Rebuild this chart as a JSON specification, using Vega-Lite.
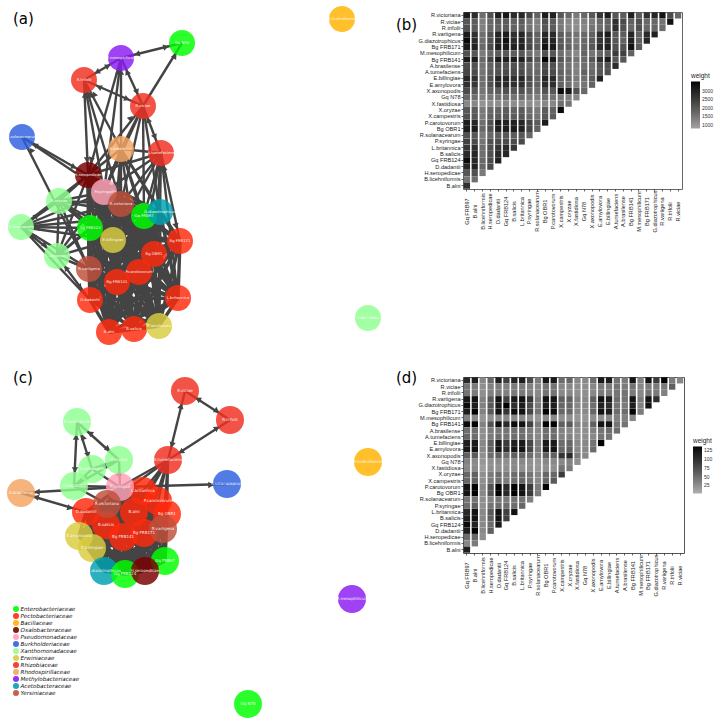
{"$schema":"https://vega.github.io/schema/vega-lite/v6.json","padding":{"left":0,"top":6,"right":0,"bottom":0},"background":"white","concat":[
{"width":400,"height":360,"view":{"stroke":null},"title":{"text":"(a)","anchor":"start","frame":"group","dx":13,"offset":-21,"font":"DejaVu Sans","fontSize":15,"fontWeight":"normal"},
"encoding":{"x":{"field":"x","type":"quantitative","axis":null,"scale":{"domain":[0,400],"nice":false,"zero":false}},"y":{"field":"y","type":"quantitative","axis":null,"scale":{"domain":[12,372],"reverse":true,"nice":false,"zero":false}}},
"layer":[
{"data":{"name":"coreEdges"},"transform":[{"lookup":"s","from":{"data":{"name":"nodesA"},"key":"id","fields":["x","y"]},"as":["x","y"]},{"lookup":"t","from":{"data":{"name":"nodesA"},"key":"id","fields":["x","y"]},"as":["x2","y2"]}],"mark":{"type":"rule","color":"#444444","strokeWidth":3.4},"encoding":{"x2":{"field":"x2"},"y2":{"field":"y2"}}},
{"data":{"name":"edgesA"},"transform":[{"lookup":"s","from":{"data":{"name":"nodesA"},"key":"id","fields":["x","y"]},"as":["x","y"]},{"lookup":"t","from":{"data":{"name":"nodesA"},"key":"id","fields":["x","y"]},"as":["x2","y2"]}],"mark":{"type":"rule","color":"#444444","strokeWidth":2.4},"encoding":{"x2":{"field":"x2"},"y2":{"field":"y2"}}},
{"data":{"name":"arrowsA"},"mark":{"type":"point","shape":"triangle-up","filled":true,"color":"#444444","opacity":1,"size":40},"encoding":{"angle":{"field":"a","type":"quantitative","scale":null}}},
{"data":{"name":"nodesA"},"mark":{"type":"circle","size":676,"opacity":0.83},"encoding":{"color":{"field":"fam","type":"nominal","legend":null,"scale":{"domain":["Enterobacteriaceae","Pectobacteriaceae","Bacillaceae","Oxalobacteraceae","Pseudomonadaceae","Burkholderiaceae","Xanthomonadaceae","Erwiniaceae","Rhizobiaceae","Rhodospirillaceae","Methylobacteriaceae","Acetobacteraceae","Yersiniaceae"],"range":["#00ff00","#ff2a0d","#ffb300","#7b0000","#ffa0b4","#3060e0","#90ff90","#d8cc40","#f03020","#f4a460","#8a1cf0","#00a0b0","#c04f3c"]}}}},
{"data":{"name":"nodesA"},"mark":{"type":"text","color":"white","fontSize":3.8,"font":"DejaVu Sans","opacity":0.9},"encoding":{"text":{"field":"name"}}}
]},
{"width":219,"height":177,"view":{"stroke":"#666666"},"title":{"text":"(b)","anchor":"start","frame":"group","dx":-67,"offset":-21,"font":"DejaVu Sans","fontSize":15,"fontWeight":"normal"},
"data":{"name":"heatB"},"mark":{"type":"rect"},
"encoding":{"x":{"field":"c","type":"ordinal","title":null,"scale":{"paddingInner":0.2,"paddingOuter":0.1},"axis":{"labelAngle":270,"labelAlign":"center","labelBaseline":"middle","labelFont":"Liberation Sans","labelFontSize":5.6,"labelColor":"#222222","tickSize":2,"tickWidth":0.7,"tickColor":"#222222","labelPadding":20,"domain":false,"grid":false,"labelOverlap":false,"labelExpr":"['Gq FRB97','B.alni','B.licehniformis','H.seropedicae','D.dadantii','Gq FRB124','B.salicis','L.britannica','P.syringae','R.solanacearum','Bg OBR1','P.carotovorum','X.campestris','X.oryzae','X.fastidiosa','Gq N78','X.axonopodis','E.amylovora','E.billingiae','A.tumefaciens','A.brasilense','Bg FRB141','M.mesophilicum','Bg FRB171','G.diazotrophicus','R.variigena','R.trifolii','R.viciae'][datum.value]"}},
"y":{"field":"r","type":"ordinal","title":null,"scale":{"paddingInner":0.02,"paddingOuter":0.05},"axis":{"labelFont":"Liberation Sans","labelFontSize":5.6,"labelColor":"#222222","tickSize":2,"tickWidth":0.7,"tickColor":"#222222","labelPadding":1,"domain":false,"grid":false,"labelOverlap":false,"labelExpr":"['R.victoriana','R.viciae','R.trifolii','R.variigena','G.diazotrophicus','Bg FRB171','M.mesophilicum','Bg FRB141','A.brasilense','A.tumefaciens','E.billingiae','E.amylovora','X.axonopodis','Gq N78','X.fastidiosa','X.oryzae','X.campestris','P.carotovorum','Bg OBR1','R.solanacearum','P.syringae','L.britannica','B.salicis','Gq FRB124','D.dadantii','H.seropedicae','B.licehniformis','B.alni'][datum.value]"}},
"color":{"field":"w","type":"quantitative","title":"weight","scale":{"domain":[765,3530],"range":["#a2a2a2","#000000"]},"legend":{"orient":"none","legendX":228,"legendY":61,"gradientLength":47,"gradientThickness":9,"titleFont":"Liberation Sans","titleFontSize":6.5,"titleFontWeight":"normal","titleColor":"#222222","titlePadding":2,"labelFont":"Liberation Sans","labelFontSize":5,"labelColor":"#333333","format":"d","values":[1000,1500,2000,2500,3000],"tickCount":5}}}},
{"width":400,"height":346,"view":{"stroke":null},"title":{"text":"(c)","anchor":"start","frame":"group","dx":13,"offset":-9,"font":"DejaVu Sans","fontSize":15,"fontWeight":"normal"},
"encoding":{"x":{"field":"x","type":"quantitative","axis":null,"scale":{"domain":[0,400],"nice":false,"zero":false}},"y":{"field":"y","type":"quantitative","axis":null,"scale":{"domain":[377,723],"reverse":true,"nice":false,"zero":false}}},
"layer":[
{"data":{"name":"coreEdges"},"transform":[{"lookup":"s","from":{"data":{"name":"nodesC"},"key":"id","fields":["x","y"]},"as":["x","y"]},{"lookup":"t","from":{"data":{"name":"nodesC"},"key":"id","fields":["x","y"]},"as":["x2","y2"]}],"mark":{"type":"rule","color":"#444444","strokeWidth":3.4},"encoding":{"x2":{"field":"x2"},"y2":{"field":"y2"}}},
{"data":{"name":"edgesC"},"transform":[{"lookup":"s","from":{"data":{"name":"nodesC"},"key":"id","fields":["x","y"]},"as":["x","y"]},{"lookup":"t","from":{"data":{"name":"nodesC"},"key":"id","fields":["x","y"]},"as":["x2","y2"]}],"mark":{"type":"rule","color":"#444444","strokeWidth":2.4},"encoding":{"x2":{"field":"x2"},"y2":{"field":"y2"}}},
{"data":{"name":"arrowsC"},"mark":{"type":"point","shape":"triangle-up","filled":true,"color":"#444444","opacity":1,"size":40},"encoding":{"angle":{"field":"a","type":"quantitative","scale":null}}},
{"data":{"name":"nodesC"},"mark":{"type":"circle","size":784,"opacity":0.83},"encoding":{"color":{"field":"fam","type":"nominal","scale":{"domain":["Enterobacteriaceae","Pectobacteriaceae","Bacillaceae","Oxalobacteraceae","Pseudomonadaceae","Burkholderiaceae","Xanthomonadaceae","Erwiniaceae","Rhizobiaceae","Rhodospirillaceae","Methylobacteriaceae","Acetobacteraceae","Yersiniaceae"],"range":["#00ff00","#ff2a0d","#ffb300","#7b0000","#ffa0b4","#3060e0","#90ff90","#d8cc40","#f03020","#f4a460","#8a1cf0","#00a0b0","#c04f3c"]},"legend":{"orient":"none","legendX":13,"legendY":229,"title":null,"symbolType":"circle","symbolSize":36,"symbolOpacity":0.9,"symbolStrokeWidth":0,"labelFont":"DejaVu Sans","labelFontStyle":"italic","labelFontSize":5.6,"labelColor":"#111111","labelOffset":1.5,"rowPadding":-0.35}}}},
{"data":{"name":"nodesC"},"mark":{"type":"text","color":"white","fontSize":4,"font":"DejaVu Sans","opacity":0.9},"encoding":{"text":{"field":"name"}}}
]},
{"width":221,"height":176,"view":{"stroke":"#555555"},"title":{"text":"(d)","anchor":"start","frame":"group","dx":-67,"offset":-9,"font":"DejaVu Sans","fontSize":15,"fontWeight":"normal"},
"data":{"name":"heatD"},"mark":{"type":"rect"},
"encoding":{"x":{"field":"c","type":"ordinal","title":null,"scale":{"paddingInner":0.2,"paddingOuter":0.1},"axis":{"labelAngle":270,"labelAlign":"center","labelBaseline":"middle","labelFont":"Liberation Sans","labelFontSize":5.6,"labelColor":"#222222","tickSize":2,"tickWidth":0.7,"tickColor":"#222222","labelPadding":20,"domain":false,"grid":false,"labelOverlap":false,"labelExpr":"['Gq FRB97','B.alni','B.licehniformis','H.seropedicae','D.dadantii','Gq FRB124','B.salicis','L.britannica','P.syringae','R.solanacearum','Bg OBR1','P.carotovorum','X.campestris','X.oryzae','X.fastidiosa','Gq N78','X.axonopodis','E.amylovora','E.billingiae','A.tumefaciens','A.brasilense','Bg FRB141','M.mesophilicum','Bg FRB171','G.diazotrophicus','R.variigena','R.trifolii','R.viciae'][datum.value]"}},
"y":{"field":"r","type":"ordinal","title":null,"scale":{"paddingInner":0.02,"paddingOuter":0.05},"axis":{"labelFont":"Liberation Sans","labelFontSize":5.6,"labelColor":"#222222","tickSize":2,"tickWidth":0.7,"tickColor":"#222222","labelPadding":1,"domain":false,"grid":false,"labelOverlap":false,"labelExpr":"['R.victoriana','R.viciae','R.trifolii','R.variigena','G.diazotrophicus','Bg FRB171','M.mesophilicum','Bg FRB141','A.brasilense','A.tumefaciens','E.billingiae','E.amylovora','X.axonopodis','Gq N78','X.fastidiosa','X.oryzae','X.campestris','P.carotovorum','Bg OBR1','R.solanacearum','P.syringae','L.britannica','B.salicis','Gq FRB124','D.dadantii','H.seropedicae','B.licehniformis','B.alni'][datum.value]"}},
"color":{"field":"w","type":"quantitative","title":"weight","scale":{"domain":[2,136],"range":["#b0b0b0","#000000"]},"legend":{"orient":"none","legendX":230,"legendY":61,"gradientLength":47,"gradientThickness":9,"titleFont":"Liberation Sans","titleFontSize":6.5,"titleFontWeight":"normal","titleColor":"#222222","titlePadding":2,"labelFont":"Liberation Sans","labelFontSize":5,"labelColor":"#333333","values":[25,50,75,100,125],"tickCount":5}}}}
],"columns":2,"bounds":"flush","spacing":{"column":63,"row":5},
"resolve":{"scale":{"color":"independent"}},
"datasets":{
"nodesA":[
{"id":2,"name":"B.licehniformis","fam":"Bacillaceae","x":342,"y":19},{"id":14,"name":"X.fastidiosa","fam":"Xanthomonadaceae","x":368,"y":318},{"id":15,"name":"Gq N78","fam":"Enterobacteriaceae","x":182,"y":43},{"id":22,"name":"M.mesophilicum","fam":"Methylobacteriaceae","x":121,"y":58},{"id":26,"name":"R.trifolii","fam":"Rhizobiaceae","x":84,"y":80},{"id":27,"name":"R.viciae","fam":"Rhizobiaceae","x":143,"y":106},{"id":9,"name":"R.solanacearum","fam":"Burkholderiaceae","x":22,"y":137},{"id":20,"name":"A.brasilense","fam":"Rhodospirillaceae","x":121,"y":149},{"id":19,"name":"A.tumefaciens","fam":"Rhizobiaceae","x":161,"y":153},{"id":3,"name":"H.seropedicae","fam":"Oxalobacteraceae","x":88,"y":175},{"id":13,"name":"X.oryzae","fam":"Xanthomonadaceae","x":59,"y":201},{"id":16,"name":"X.axonopodis","fam":"Xanthomonadaceae","x":21,"y":227},{"id":12,"name":"X.campestris","fam":"Xanthomonadaceae","x":57,"y":256},{"id":8,"name":"P.syringae","fam":"Pseudomonadaceae","x":104,"y":192},{"id":28,"name":"R.victoriana","fam":"Yersiniaceae","x":121,"y":204},{"id":0,"name":"Gq FRB97","fam":"Enterobacteriaceae","x":144,"y":216},{"id":24,"name":"G.diazotrophicus","fam":"Acetobacteraceae","x":160,"y":212},{"id":5,"name":"Gq FRB124","fam":"Enterobacteriaceae","x":90,"y":228},{"id":18,"name":"E.billingiae","fam":"Erwiniaceae","x":113,"y":240},{"id":23,"name":"Bg FRB171","fam":"Pectobacteriaceae","x":180,"y":241},{"id":10,"name":"Bg OBR1","fam":"Pectobacteriaceae","x":154,"y":254},{"id":25,"name":"R.variigena","fam":"Yersiniaceae","x":89,"y":269},{"id":11,"name":"P.carotovorum","fam":"Pectobacteriaceae","x":139,"y":272},{"id":21,"name":"Bg FRB141","fam":"Pectobacteriaceae","x":117,"y":282},{"id":7,"name":"L.britannica","fam":"Pectobacteriaceae","x":178,"y":298},{"id":4,"name":"D.dadantii","fam":"Pectobacteriaceae","x":90,"y":300},{"id":1,"name":"B.alni","fam":"Pectobacteriaceae","x":109,"y":332},{"id":6,"name":"B.salicis","fam":"Pectobacteriaceae","x":134,"y":329},{"id":17,"name":"E.amylovora","fam":"Erwiniaceae","x":159,"y":326}],
"nodesC":[
{"id":27,"name":"R.viciae","fam":"Rhizobiaceae","x":185,"y":391},{"id":26,"name":"R.trifolii","fam":"Rhizobiaceae","x":230,"y":420},{"id":19,"name":"A.tumefaciens","fam":"Rhizobiaceae","x":168,"y":460},{"id":9,"name":"R.solanacearum","fam":"Burkholderiaceae","x":227,"y":484},{"id":2,"name":"B.licehniformis","fam":"Bacillaceae","x":368,"y":462},{"id":22,"name":"M.mesophilicum","fam":"Methylobacteriaceae","x":352,"y":599},{"id":15,"name":"Gq N78","fam":"Enterobacteriaceae","x":248,"y":704},{"id":16,"name":"X.axonopodis","fam":"Xanthomonadaceae","x":77,"y":422},{"id":13,"name":"X.campestris","fam":"Xanthomonadaceae","x":92,"y":469},{"id":12,"name":"X.oryzae","fam":"Xanthomonadaceae","x":119,"y":460},{"id":14,"name":"X.fastidiosa","fam":"Xanthomonadaceae","x":74,"y":486},{"id":20,"name":"A.brasilense","fam":"Rhodospirillaceae","x":21,"y":493},{"id":7,"name":"L.britannica","fam":"Pectobacteriaceae","x":143,"y":491},{"id":11,"name":"P.carotovorum","fam":"Pectobacteriaceae","x":158,"y":501},{"id":10,"name":"Bg OBR1","fam":"Pectobacteriaceae","x":167,"y":514},{"id":1,"name":"B.alni","fam":"Pectobacteriaceae","x":134,"y":512},{"id":4,"name":"D.dadantii","fam":"Pectobacteriaceae","x":86,"y":512},{"id":6,"name":"B.salicis","fam":"Pectobacteriaceae","x":106,"y":525},{"id":21,"name":"Bg FRB141","fam":"Pectobacteriaceae","x":123,"y":537},{"id":23,"name":"Bg FRB171","fam":"Pectobacteriaceae","x":144,"y":533},{"id":8,"name":"P.syringae","fam":"Pseudomonadaceae","x":120,"y":487},{"id":28,"name":"R.victoriana","fam":"Yersiniaceae","x":107,"y":504},{"id":25,"name":"R.variigena","fam":"Yersiniaceae","x":163,"y":529},{"id":17,"name":"E.amylovora","fam":"Erwiniaceae","x":79,"y":536},{"id":18,"name":"E.billingiae","fam":"Erwiniaceae","x":92,"y":548},{"id":0,"name":"Gq FRB97","fam":"Enterobacteriaceae","x":165,"y":561},{"id":24,"name":"G.diazotrophicus","fam":"Acetobacteraceae","x":104,"y":571},{"id":5,"name":"Gq FRB124","fam":"Enterobacteriaceae","x":125,"y":574},{"id":3,"name":"H.seropedicae","fam":"Oxalobacteraceae","x":145,"y":571}],
"coreEdges":[{"s":0,"t":1},{"s":0,"t":3},{"s":0,"t":4},{"s":0,"t":5},{"s":0,"t":6},{"s":0,"t":7},{"s":0,"t":8},{"s":0,"t":10},{"s":0,"t":11},{"s":0,"t":17},{"s":0,"t":18},{"s":0,"t":21},{"s":0,"t":23},{"s":0,"t":24},{"s":0,"t":25},{"s":0,"t":28},{"s":1,"t":3},{"s":1,"t":4},{"s":1,"t":5},{"s":1,"t":6},{"s":1,"t":7},{"s":1,"t":8},{"s":1,"t":10},{"s":1,"t":11},{"s":1,"t":17},{"s":1,"t":18},{"s":1,"t":21},{"s":1,"t":23},{"s":1,"t":24},{"s":1,"t":25},{"s":1,"t":28},{"s":3,"t":4},{"s":3,"t":5},{"s":3,"t":6},{"s":3,"t":7},{"s":3,"t":8},{"s":3,"t":10},{"s":3,"t":11},{"s":3,"t":17},{"s":3,"t":18},{"s":3,"t":21},{"s":3,"t":23},{"s":3,"t":24},{"s":3,"t":25},{"s":3,"t":28},{"s":4,"t":5},{"s":4,"t":6},{"s":4,"t":7},{"s":4,"t":8},{"s":4,"t":10},{"s":4,"t":11},{"s":4,"t":17},{"s":4,"t":18},{"s":4,"t":21},{"s":4,"t":23},{"s":4,"t":24},{"s":4,"t":25},{"s":4,"t":28},{"s":5,"t":6},{"s":5,"t":7},{"s":5,"t":8},{"s":5,"t":10},{"s":5,"t":11},{"s":5,"t":17},{"s":5,"t":18},{"s":5,"t":21},{"s":5,"t":23},{"s":5,"t":24},{"s":5,"t":25},{"s":5,"t":28},{"s":6,"t":7},{"s":6,"t":8},{"s":6,"t":10},{"s":6,"t":11},{"s":6,"t":17},{"s":6,"t":18},{"s":6,"t":21},{"s":6,"t":23},{"s":6,"t":24},{"s":6,"t":25},{"s":6,"t":28},{"s":7,"t":8},{"s":7,"t":10},{"s":7,"t":11},{"s":7,"t":17},{"s":7,"t":18},{"s":7,"t":21},{"s":7,"t":23},{"s":7,"t":24},{"s":7,"t":25},{"s":7,"t":28},{"s":8,"t":10},{"s":8,"t":11},{"s":8,"t":17},{"s":8,"t":18},{"s":8,"t":21},{"s":8,"t":23},{"s":8,"t":24},{"s":8,"t":25},{"s":8,"t":28},{"s":10,"t":11},{"s":10,"t":17},{"s":10,"t":18},{"s":10,"t":21},{"s":10,"t":23},{"s":10,"t":24},{"s":10,"t":25},{"s":10,"t":28},{"s":11,"t":17},{"s":11,"t":18},{"s":11,"t":21},{"s":11,"t":23},{"s":11,"t":24},{"s":11,"t":25},{"s":11,"t":28},{"s":17,"t":18},{"s":17,"t":21},{"s":17,"t":23},{"s":17,"t":24},{"s":17,"t":25},{"s":17,"t":28},{"s":18,"t":21},{"s":18,"t":23},{"s":18,"t":24},{"s":18,"t":25},{"s":18,"t":28},{"s":21,"t":23},{"s":21,"t":24},{"s":21,"t":25},{"s":21,"t":28},{"s":23,"t":24},{"s":23,"t":25},{"s":23,"t":28},{"s":24,"t":25},{"s":24,"t":28},{"s":25,"t":28}],
"edgesA":[{"s":16,"t":3},{"s":16,"t":8},{"s":16,"t":5},{"s":16,"t":18},{"s":16,"t":25},{"s":16,"t":28},{"s":16,"t":4},{"s":16,"t":0},{"s":12,"t":3},{"s":12,"t":8},{"s":12,"t":5},{"s":12,"t":18},{"s":12,"t":25},{"s":12,"t":4},{"s":12,"t":21},{"s":12,"t":28},{"s":13,"t":3},{"s":13,"t":8},{"s":13,"t":5},{"s":13,"t":18},{"s":13,"t":25},{"s":13,"t":28},{"s":13,"t":0},{"s":13,"t":10},{"s":16,"t":12},{"s":16,"t":13},{"s":12,"t":13},{"s":20,"t":3},{"s":20,"t":8},{"s":20,"t":28},{"s":20,"t":5},{"s":20,"t":0},{"s":20,"t":24},{"s":20,"t":18},{"s":20,"t":10},{"s":20,"t":11},{"s":20,"t":21},{"s":20,"t":23},{"s":19,"t":3},{"s":19,"t":8},{"s":19,"t":28},{"s":19,"t":0},{"s":19,"t":24},{"s":19,"t":18},{"s":19,"t":10},{"s":19,"t":23},{"s":19,"t":11},{"s":19,"t":7},{"s":19,"t":20},{"s":9,"t":3},{"s":9,"t":8},{"s":9,"t":25},{"s":22,"t":15},{"s":22,"t":26},{"s":22,"t":27},{"s":15,"t":27},{"s":26,"t":27},{"s":26,"t":3},{"s":26,"t":20},{"s":26,"t":8},{"s":26,"t":28},{"s":22,"t":3},{"s":22,"t":8},{"s":22,"t":20},{"s":27,"t":3},{"s":27,"t":20},{"s":27,"t":19},{"s":27,"t":8},{"s":27,"t":24},{"s":27,"t":0},{"s":27,"t":28}],
"edgesC":[{"s":19,"t":7},{"s":19,"t":11},{"s":19,"t":1},{"s":19,"t":10},{"s":19,"t":23},{"s":19,"t":21},{"s":19,"t":25},{"s":19,"t":8},{"s":19,"t":28},{"s":20,"t":8},{"s":20,"t":4},{"s":9,"t":8},{"s":16,"t":14},{"s":16,"t":13},{"s":16,"t":12},{"s":13,"t":12},{"s":12,"t":8},{"s":14,"t":8},{"s":14,"t":28},{"s":13,"t":8},{"s":14,"t":13},{"s":12,"t":14},{"s":26,"t":27},{"s":26,"t":19},{"s":27,"t":19}],
"arrowsA":[{"x":166,"y":47,"a":76},{"x":137,"y":54,"a":256},{"x":97,"y":72,"a":241},{"x":108,"y":66,"a":61},{"x":175,"y":56,"a":33},{"x":127,"y":72,"a":335},{"x":137,"y":92,"a":155},{"x":99,"y":87,"a":293},{"x":127,"y":99,"a":113},{"x":85,"y":95,"a":0},{"x":87,"y":160,"a":180},{"x":90,"y":95,"a":350},{"x":94,"y":94,"a":335},{"x":119,"y":72,"a":20},{"x":91,"y":160,"a":200},{"x":121,"y":72,"a":0},{"x":155,"y":137,"a":155},{"x":148,"y":120,"a":335},{"x":131,"y":118,"a":45},{"x":35,"y":145,"a":300},{"x":74,"y":167,"a":115},{"x":31,"y":150,"a":325},{"x":35,"y":216,"a":285},{"x":37,"y":228,"a":270},{"x":33,"y":236,"a":305},{"x":45,"y":245,"a":125},{"x":66,"y":268,"a":324},{"x":80,"y":287,"a":144},{"x":164,"y":168,"a":348},{"x":176,"y":226,"a":168}],
"arrowsC":[{"x":181,"y":406,"a":13},{"x":172,"y":445,"a":193},{"x":217,"y":411,"a":122},{"x":198,"y":399,"a":302},{"x":217,"y":428,"a":56},{"x":181,"y":452,"a":236},{"x":37,"y":492,"a":268},{"x":36,"y":497,"a":287},{"x":70,"y":508,"a":107},{"x":211,"y":485,"a":90},{"x":75,"y":470,"a":180},{"x":76,"y":437,"a":0},{"x":88,"y":455,"a":163},{"x":83,"y":437,"a":343},{"x":108,"y":449,"a":125},{"x":90,"y":433,"a":305},{"x":119,"y":473,"a":0},{"x":105,"y":465,"a":60},{"x":85,"y":478,"a":240}],
"heatB":[{"r":0,"c":0,"w":3100},{"r":0,"c":1,"w":2800},{"r":0,"c":2,"w":1600},{"r":0,"c":3,"w":2100},{"r":0,"c":4,"w":3000},{"r":0,"c":5,"w":3200},{"r":0,"c":6,"w":2800},{"r":0,"c":7,"w":2900},{"r":0,"c":8,"w":2300},{"r":0,"c":9,"w":1800},{"r":0,"c":10,"w":3100},{"r":0,"c":11,"w":3000},{"r":0,"c":12,"w":2000},{"r":0,"c":13,"w":1700},{"r":0,"c":14,"w":1400},{"r":0,"c":15,"w":1700},{"r":0,"c":16,"w":2000},{"r":0,"c":17,"w":2600},{"r":0,"c":18,"w":3100},{"r":0,"c":19,"w":2000},{"r":0,"c":20,"w":1900},{"r":0,"c":21,"w":3000},{"r":0,"c":22,"w":1900},{"r":0,"c":23,"w":2700},{"r":0,"c":24,"w":2900},{"r":0,"c":25,"w":3300},{"r":0,"c":26,"w":2200},{"r":0,"c":27,"w":1700},
{"r":1,"c":0,"w":2000},{"r":1,"c":1,"w":1900},{"r":1,"c":2,"w":1300},{"r":1,"c":3,"w":1700},{"r":1,"c":4,"w":1900},{"r":1,"c":5,"w":1900},{"r":1,"c":6,"w":1800},{"r":1,"c":7,"w":1900},{"r":1,"c":8,"w":1500},{"r":1,"c":9,"w":1300},{"r":1,"c":10,"w":2100},{"r":1,"c":11,"w":1900},{"r":1,"c":12,"w":1400},{"r":1,"c":13,"w":1200},{"r":1,"c":14,"w":1100},{"r":1,"c":15,"w":1300},{"r":1,"c":16,"w":1400},{"r":1,"c":17,"w":1700},{"r":1,"c":18,"w":1800},{"r":1,"c":19,"w":2700},{"r":1,"c":20,"w":2200},{"r":1,"c":21,"w":1800},{"r":1,"c":22,"w":2100},{"r":1,"c":23,"w":1700},{"r":1,"c":24,"w":1700},{"r":1,"c":25,"w":1500},{"r":1,"c":26,"w":3300},
{"r":2,"c":0,"w":2100},{"r":2,"c":1,"w":1900},{"r":2,"c":2,"w":1300},{"r":2,"c":3,"w":1700},{"r":2,"c":4,"w":1800},{"r":2,"c":5,"w":1900},{"r":2,"c":6,"w":1800},{"r":2,"c":7,"w":1800},{"r":2,"c":8,"w":1500},{"r":2,"c":9,"w":1300},{"r":2,"c":10,"w":2000},{"r":2,"c":11,"w":1900},{"r":2,"c":12,"w":1400},{"r":2,"c":13,"w":1200},{"r":2,"c":14,"w":1100},{"r":2,"c":15,"w":1200},{"r":2,"c":16,"w":1500},{"r":2,"c":17,"w":1600},{"r":2,"c":18,"w":1800},{"r":2,"c":19,"w":2700},{"r":2,"c":20,"w":2100},{"r":2,"c":21,"w":1700},{"r":2,"c":22,"w":2100},{"r":2,"c":23,"w":1700},{"r":2,"c":24,"w":1700},{"r":2,"c":25,"w":1600},
{"r":3,"c":0,"w":3100},{"r":3,"c":1,"w":2700},{"r":3,"c":2,"w":1600},{"r":3,"c":3,"w":2100},{"r":3,"c":4,"w":2900},{"r":3,"c":5,"w":3100},{"r":3,"c":6,"w":2700},{"r":3,"c":7,"w":2900},{"r":3,"c":8,"w":2200},{"r":3,"c":9,"w":1800},{"r":3,"c":10,"w":2900},{"r":3,"c":11,"w":2800},{"r":3,"c":12,"w":1900},{"r":3,"c":13,"w":1700},{"r":3,"c":14,"w":1500},{"r":3,"c":15,"w":1700},{"r":3,"c":16,"w":1800},{"r":3,"c":17,"w":2700},{"r":3,"c":18,"w":3100},{"r":3,"c":19,"w":2000},{"r":3,"c":20,"w":1900},{"r":3,"c":21,"w":2900},{"r":3,"c":22,"w":1800},{"r":3,"c":23,"w":2800},{"r":3,"c":24,"w":3000},
{"r":4,"c":0,"w":3400},{"r":4,"c":1,"w":2800},{"r":4,"c":2,"w":1600},{"r":4,"c":3,"w":2100},{"r":4,"c":4,"w":2900},{"r":4,"c":5,"w":3300},{"r":4,"c":6,"w":2800},{"r":4,"c":7,"w":2900},{"r":4,"c":8,"w":2200},{"r":4,"c":9,"w":1800},{"r":4,"c":10,"w":3000},{"r":4,"c":11,"w":2900},{"r":4,"c":12,"w":1900},{"r":4,"c":13,"w":1700},{"r":4,"c":14,"w":1400},{"r":4,"c":15,"w":1700},{"r":4,"c":16,"w":1900},{"r":4,"c":17,"w":2600},{"r":4,"c":18,"w":2800},{"r":4,"c":19,"w":2000},{"r":4,"c":20,"w":1800},{"r":4,"c":21,"w":3000},{"r":4,"c":22,"w":1800},{"r":4,"c":23,"w":2900},
{"r":5,"c":0,"w":3100},{"r":5,"c":1,"w":3000},{"r":5,"c":2,"w":1700},{"r":5,"c":3,"w":2200},{"r":5,"c":4,"w":3000},{"r":5,"c":5,"w":3100},{"r":5,"c":6,"w":3000},{"r":5,"c":7,"w":3000},{"r":5,"c":8,"w":2300},{"r":5,"c":9,"w":1900},{"r":5,"c":10,"w":3300},{"r":5,"c":11,"w":3100},{"r":5,"c":12,"w":2000},{"r":5,"c":13,"w":1800},{"r":5,"c":14,"w":1500},{"r":5,"c":15,"w":1700},{"r":5,"c":16,"w":2000},{"r":5,"c":17,"w":2800},{"r":5,"c":18,"w":3000},{"r":5,"c":19,"w":2100},{"r":5,"c":20,"w":2100},{"r":5,"c":21,"w":3300},{"r":5,"c":22,"w":1900},
{"r":6,"c":0,"w":2100},{"r":6,"c":1,"w":2000},{"r":6,"c":2,"w":1400},{"r":6,"c":3,"w":1700},{"r":6,"c":4,"w":1900},{"r":6,"c":5,"w":2000},{"r":6,"c":6,"w":1900},{"r":6,"c":7,"w":2000},{"r":6,"c":8,"w":1600},{"r":6,"c":9,"w":1400},{"r":6,"c":10,"w":2100},{"r":6,"c":11,"w":2000},{"r":6,"c":12,"w":1600},{"r":6,"c":13,"w":1400},{"r":6,"c":14,"w":1200},{"r":6,"c":15,"w":1800},{"r":6,"c":16,"w":1500},{"r":6,"c":17,"w":1700},{"r":6,"c":18,"w":1900},{"r":6,"c":19,"w":2500},{"r":6,"c":20,"w":2400},{"r":6,"c":21,"w":1800},
{"r":7,"c":0,"w":3100},{"r":7,"c":1,"w":3100},{"r":7,"c":2,"w":1700},{"r":7,"c":3,"w":2300},{"r":7,"c":4,"w":3100},{"r":7,"c":5,"w":3000},{"r":7,"c":6,"w":3100},{"r":7,"c":7,"w":3000},{"r":7,"c":8,"w":2400},{"r":7,"c":9,"w":1900},{"r":7,"c":10,"w":3500},{"r":7,"c":11,"w":3100},{"r":7,"c":12,"w":2000},{"r":7,"c":13,"w":1700},{"r":7,"c":14,"w":1500},{"r":7,"c":15,"w":1700},{"r":7,"c":16,"w":2000},{"r":7,"c":17,"w":2700},{"r":7,"c":18,"w":3100},{"r":7,"c":19,"w":2000},{"r":7,"c":20,"w":2000},
{"r":8,"c":0,"w":2200},{"r":8,"c":1,"w":2100},{"r":8,"c":2,"w":1500},{"r":8,"c":3,"w":1800},{"r":8,"c":4,"w":2100},{"r":8,"c":5,"w":2100},{"r":8,"c":6,"w":2100},{"r":8,"c":7,"w":2100},{"r":8,"c":8,"w":1700},{"r":8,"c":9,"w":1600},{"r":8,"c":10,"w":2200},{"r":8,"c":11,"w":2100},{"r":8,"c":12,"w":1700},{"r":8,"c":13,"w":1500},{"r":8,"c":14,"w":1300},{"r":8,"c":15,"w":1600},{"r":8,"c":16,"w":1600},{"r":8,"c":17,"w":2000},{"r":8,"c":18,"w":2100},{"r":8,"c":19,"w":2800},
{"r":9,"c":0,"w":2300},{"r":9,"c":1,"w":2200},{"r":9,"c":2,"w":1500},{"r":9,"c":3,"w":1900},{"r":9,"c":4,"w":2100},{"r":9,"c":5,"w":2200},{"r":9,"c":6,"w":2200},{"r":9,"c":7,"w":2200},{"r":9,"c":8,"w":1800},{"r":9,"c":9,"w":1700},{"r":9,"c":10,"w":2300},{"r":9,"c":11,"w":2200},{"r":9,"c":12,"w":1800},{"r":9,"c":13,"w":1600},{"r":9,"c":14,"w":1300},{"r":9,"c":15,"w":1800},{"r":9,"c":16,"w":1700},{"r":9,"c":17,"w":2000},{"r":9,"c":18,"w":2100},
{"r":10,"c":0,"w":2900},{"r":10,"c":1,"w":2700},{"r":10,"c":2,"w":1600},{"r":10,"c":3,"w":2100},{"r":10,"c":4,"w":2900},{"r":10,"c":5,"w":2900},{"r":10,"c":6,"w":2700},{"r":10,"c":7,"w":2900},{"r":10,"c":8,"w":2200},{"r":10,"c":9,"w":1800},{"r":10,"c":10,"w":2900},{"r":10,"c":11,"w":2800},{"r":10,"c":12,"w":1800},{"r":10,"c":13,"w":1700},{"r":10,"c":14,"w":1400},{"r":10,"c":15,"w":1600},{"r":10,"c":16,"w":1900},{"r":10,"c":17,"w":3000},
{"r":11,"c":0,"w":2700},{"r":11,"c":1,"w":2600},{"r":11,"c":2,"w":1600},{"r":11,"c":3,"w":2100},{"r":11,"c":4,"w":2700},{"r":11,"c":5,"w":2800},{"r":11,"c":6,"w":2700},{"r":11,"c":7,"w":2700},{"r":11,"c":8,"w":2100},{"r":11,"c":9,"w":1800},{"r":11,"c":10,"w":2800},{"r":11,"c":11,"w":2700},{"r":11,"c":12,"w":1800},{"r":11,"c":13,"w":1600},{"r":11,"c":14,"w":1300},{"r":11,"c":15,"w":1500},{"r":11,"c":16,"w":1800},
{"r":12,"c":0,"w":2200},{"r":12,"c":1,"w":2000},{"r":12,"c":2,"w":1500},{"r":12,"c":3,"w":1800},{"r":12,"c":4,"w":1900},{"r":12,"c":5,"w":2100},{"r":12,"c":6,"w":2000},{"r":12,"c":7,"w":2100},{"r":12,"c":8,"w":1800},{"r":12,"c":9,"w":1600},{"r":12,"c":10,"w":2100},{"r":12,"c":11,"w":2000},{"r":12,"c":12,"w":3400},{"r":12,"c":13,"w":3200},{"r":12,"c":14,"w":2100},{"r":12,"c":15,"w":1700},
{"r":13,"c":0,"w":1700},{"r":13,"c":1,"w":1600},{"r":13,"c":2,"w":1300},{"r":13,"c":3,"w":1400},{"r":13,"c":4,"w":1500},{"r":13,"c":5,"w":1600},{"r":13,"c":6,"w":1500},{"r":13,"c":7,"w":1600},{"r":13,"c":8,"w":1400},{"r":13,"c":9,"w":1300},{"r":13,"c":10,"w":1600},{"r":13,"c":11,"w":1500},{"r":13,"c":12,"w":1400},{"r":13,"c":13,"w":1300},{"r":13,"c":14,"w":1200},
{"r":14,"c":0,"w":1200},{"r":14,"c":1,"w":1200},{"r":14,"c":2,"w":1000},{"r":14,"c":3,"w":1100},{"r":14,"c":4,"w":1100},{"r":14,"c":5,"w":1200},{"r":14,"c":6,"w":1100},{"r":14,"c":7,"w":1100},{"r":14,"c":8,"w":1100},{"r":14,"c":9,"w":1000},{"r":14,"c":10,"w":1200},{"r":14,"c":11,"w":1200},{"r":14,"c":12,"w":1600},{"r":14,"c":13,"w":1500},
{"r":15,"c":0,"w":2000},{"r":15,"c":1,"w":1900},{"r":15,"c":2,"w":1400},{"r":15,"c":3,"w":1700},{"r":15,"c":4,"w":1800},{"r":15,"c":5,"w":1900},{"r":15,"c":6,"w":1800},{"r":15,"c":7,"w":1900},{"r":15,"c":8,"w":1600},{"r":15,"c":9,"w":1400},{"r":15,"c":10,"w":1900},{"r":15,"c":11,"w":1800},{"r":15,"c":12,"w":3400},
{"r":16,"c":0,"w":2100},{"r":16,"c":1,"w":2000},{"r":16,"c":2,"w":1400},{"r":16,"c":3,"w":1800},{"r":16,"c":4,"w":1900},{"r":16,"c":5,"w":2000},{"r":16,"c":6,"w":1900},{"r":16,"c":7,"w":2000},{"r":16,"c":8,"w":1700},{"r":16,"c":9,"w":1500},{"r":16,"c":10,"w":2000},{"r":16,"c":11,"w":1900},
{"r":17,"c":0,"w":3100},{"r":17,"c":1,"w":2900},{"r":17,"c":2,"w":1600},{"r":17,"c":3,"w":2100},{"r":17,"c":4,"w":3100},{"r":17,"c":5,"w":3000},{"r":17,"c":6,"w":3000},{"r":17,"c":7,"w":2900},{"r":17,"c":8,"w":2300},{"r":17,"c":9,"w":1900},{"r":17,"c":10,"w":3100},
{"r":18,"c":0,"w":3100},{"r":18,"c":1,"w":3100},{"r":18,"c":2,"w":1700},{"r":18,"c":3,"w":2100},{"r":18,"c":4,"w":3000},{"r":18,"c":5,"w":3100},{"r":18,"c":6,"w":3100},{"r":18,"c":7,"w":3000},{"r":18,"c":8,"w":2300},{"r":18,"c":9,"w":1800},
{"r":19,"c":0,"w":2100},{"r":19,"c":1,"w":2000},{"r":19,"c":2,"w":1400},{"r":19,"c":3,"w":1700},{"r":19,"c":4,"w":1900},{"r":19,"c":5,"w":2000},{"r":19,"c":6,"w":1900},{"r":19,"c":7,"w":2000},{"r":19,"c":8,"w":1700},
{"r":20,"c":0,"w":2400},{"r":20,"c":1,"w":2200},{"r":20,"c":2,"w":1500},{"r":20,"c":3,"w":2100},{"r":20,"c":4,"w":2200},{"r":20,"c":5,"w":2200},{"r":20,"c":6,"w":2200},{"r":20,"c":7,"w":2200},
{"r":21,"c":0,"w":2600},{"r":21,"c":1,"w":2700},{"r":21,"c":2,"w":1600},{"r":21,"c":3,"w":2100},{"r":21,"c":4,"w":2600},{"r":21,"c":5,"w":2800},{"r":21,"c":6,"w":2600},
{"r":22,"c":0,"w":2800},{"r":22,"c":1,"w":2900},{"r":22,"c":2,"w":1600},{"r":22,"c":3,"w":2100},{"r":22,"c":4,"w":2800},{"r":22,"c":5,"w":2900},
{"r":23,"c":0,"w":3400},{"r":23,"c":1,"w":2900},{"r":23,"c":2,"w":1700},{"r":23,"c":3,"w":2200},{"r":23,"c":4,"w":3000},
{"r":24,"c":0,"w":2900},{"r":24,"c":1,"w":3000},{"r":24,"c":2,"w":1700},{"r":24,"c":3,"w":2200},
{"r":25,"c":0,"w":2000},{"r":25,"c":1,"w":2100},{"r":25,"c":2,"w":1400},
{"r":26,"c":0,"w":1500},{"r":26,"c":1,"w":1600},
{"r":27,"c":0,"w":2700}],
"heatD":[{"r":0,"c":0,"w":105},{"r":0,"c":1,"w":115},{"r":0,"c":2,"w":30},{"r":0,"c":3,"w":55},{"r":0,"c":4,"w":115},{"r":0,"c":5,"w":85},{"r":0,"c":6,"w":110},{"r":0,"c":7,"w":115},{"r":0,"c":8,"w":75},{"r":0,"c":9,"w":40},{"r":0,"c":10,"w":120},{"r":0,"c":11,"w":120},{"r":0,"c":12,"w":50},{"r":0,"c":13,"w":55},{"r":0,"c":14,"w":30},{"r":0,"c":15,"w":30},{"r":0,"c":16,"w":50},{"r":0,"c":17,"w":120},{"r":0,"c":18,"w":115},{"r":0,"c":19,"w":45},{"r":0,"c":20,"w":40},{"r":0,"c":21,"w":125},{"r":0,"c":22,"w":35},{"r":0,"c":23,"w":125},{"r":0,"c":24,"w":90},{"r":0,"c":25,"w":135},{"r":0,"c":26,"w":40},{"r":0,"c":27,"w":30},
{"r":1,"c":0,"w":45},{"r":1,"c":1,"w":40},{"r":1,"c":2,"w":25},{"r":1,"c":3,"w":35},{"r":1,"c":4,"w":40},{"r":1,"c":5,"w":35},{"r":1,"c":6,"w":40},{"r":1,"c":7,"w":40},{"r":1,"c":8,"w":35},{"r":1,"c":9,"w":30},{"r":1,"c":10,"w":45},{"r":1,"c":11,"w":45},{"r":1,"c":12,"w":30},{"r":1,"c":13,"w":30},{"r":1,"c":14,"w":25},{"r":1,"c":15,"w":25},{"r":1,"c":16,"w":30},{"r":1,"c":17,"w":40},{"r":1,"c":18,"w":40},{"r":1,"c":19,"w":45},{"r":1,"c":20,"w":40},{"r":1,"c":21,"w":45},{"r":1,"c":22,"w":30},{"r":1,"c":23,"w":40},{"r":1,"c":24,"w":40},{"r":1,"c":25,"w":40},{"r":1,"c":26,"w":60},
{"r":2,"c":0,"w":45},{"r":2,"c":1,"w":40},{"r":2,"c":2,"w":25},{"r":2,"c":3,"w":35},{"r":2,"c":4,"w":40},{"r":2,"c":5,"w":35},{"r":2,"c":6,"w":40},{"r":2,"c":7,"w":40},{"r":2,"c":8,"w":35},{"r":2,"c":9,"w":30},{"r":2,"c":10,"w":45},{"r":2,"c":11,"w":45},{"r":2,"c":12,"w":30},{"r":2,"c":13,"w":30},{"r":2,"c":14,"w":25},{"r":2,"c":15,"w":25},{"r":2,"c":16,"w":30},{"r":2,"c":17,"w":40},{"r":2,"c":18,"w":40},{"r":2,"c":19,"w":45},{"r":2,"c":20,"w":45},{"r":2,"c":21,"w":40},{"r":2,"c":22,"w":30},{"r":2,"c":23,"w":45},{"r":2,"c":24,"w":40},{"r":2,"c":25,"w":35},
{"r":3,"c":0,"w":120},{"r":3,"c":1,"w":125},{"r":3,"c":2,"w":35},{"r":3,"c":3,"w":65},{"r":3,"c":4,"w":125},{"r":3,"c":5,"w":85},{"r":3,"c":6,"w":120},{"r":3,"c":7,"w":125},{"r":3,"c":8,"w":95},{"r":3,"c":9,"w":40},{"r":3,"c":10,"w":125},{"r":3,"c":11,"w":125},{"r":3,"c":12,"w":60},{"r":3,"c":13,"w":60},{"r":3,"c":14,"w":35},{"r":3,"c":15,"w":30},{"r":3,"c":16,"w":60},{"r":3,"c":17,"w":125},{"r":3,"c":18,"w":115},{"r":3,"c":19,"w":50},{"r":3,"c":20,"w":45},{"r":3,"c":21,"w":125},{"r":3,"c":22,"w":40},{"r":3,"c":23,"w":125},{"r":3,"c":24,"w":100},
{"r":4,"c":0,"w":130},{"r":4,"c":1,"w":115},{"r":4,"c":2,"w":35},{"r":4,"c":3,"w":65},{"r":4,"c":4,"w":115},{"r":4,"c":5,"w":135},{"r":4,"c":6,"w":100},{"r":4,"c":7,"w":115},{"r":4,"c":8,"w":75},{"r":4,"c":9,"w":40},{"r":4,"c":10,"w":115},{"r":4,"c":11,"w":115},{"r":4,"c":12,"w":55},{"r":4,"c":13,"w":55},{"r":4,"c":14,"w":30},{"r":4,"c":15,"w":30},{"r":4,"c":16,"w":50},{"r":4,"c":17,"w":110},{"r":4,"c":18,"w":100},{"r":4,"c":19,"w":45},{"r":4,"c":20,"w":40},{"r":4,"c":21,"w":115},{"r":4,"c":22,"w":35},{"r":4,"c":23,"w":125},
{"r":5,"c":0,"w":115},{"r":5,"c":1,"w":135},{"r":5,"c":2,"w":35},{"r":5,"c":3,"w":65},{"r":5,"c":4,"w":125},{"r":5,"c":5,"w":95},{"r":5,"c":6,"w":130},{"r":5,"c":7,"w":125},{"r":5,"c":8,"w":80},{"r":5,"c":9,"w":45},{"r":5,"c":10,"w":135},{"r":5,"c":11,"w":130},{"r":5,"c":12,"w":55},{"r":5,"c":13,"w":55},{"r":5,"c":14,"w":30},{"r":5,"c":15,"w":30},{"r":5,"c":16,"w":55},{"r":5,"c":17,"w":125},{"r":5,"c":18,"w":115},{"r":5,"c":19,"w":50},{"r":5,"c":20,"w":50},{"r":5,"c":21,"w":135},{"r":5,"c":22,"w":40},
{"r":6,"c":0,"w":35},{"r":6,"c":1,"w":30},{"r":6,"c":2,"w":20},{"r":6,"c":3,"w":25},{"r":6,"c":4,"w":30},{"r":6,"c":5,"w":30},{"r":6,"c":6,"w":30},{"r":6,"c":7,"w":30},{"r":6,"c":8,"w":25},{"r":6,"c":9,"w":20},{"r":6,"c":10,"w":30},{"r":6,"c":11,"w":30},{"r":6,"c":12,"w":25},{"r":6,"c":13,"w":25},{"r":6,"c":14,"w":20},{"r":6,"c":15,"w":20},{"r":6,"c":16,"w":25},{"r":6,"c":17,"w":25},{"r":6,"c":18,"w":30},{"r":6,"c":19,"w":35},{"r":6,"c":20,"w":35},{"r":6,"c":21,"w":30},
{"r":7,"c":0,"w":130},{"r":7,"c":1,"w":135},{"r":7,"c":2,"w":35},{"r":7,"c":3,"w":70},{"r":7,"c":4,"w":130},{"r":7,"c":5,"w":105},{"r":7,"c":6,"w":130},{"r":7,"c":7,"w":125},{"r":7,"c":8,"w":85},{"r":7,"c":9,"w":40},{"r":7,"c":10,"w":135},{"r":7,"c":11,"w":135},{"r":7,"c":12,"w":60},{"r":7,"c":13,"w":65},{"r":7,"c":14,"w":35},{"r":7,"c":15,"w":30},{"r":7,"c":16,"w":60},{"r":7,"c":17,"w":125},{"r":7,"c":18,"w":125},{"r":7,"c":19,"w":45},{"r":7,"c":20,"w":45},
{"r":8,"c":0,"w":50},{"r":8,"c":1,"w":50},{"r":8,"c":2,"w":25},{"r":8,"c":3,"w":40},{"r":8,"c":4,"w":45},{"r":8,"c":5,"w":45},{"r":8,"c":6,"w":50},{"r":8,"c":7,"w":50},{"r":8,"c":8,"w":40},{"r":8,"c":9,"w":30},{"r":8,"c":10,"w":50},{"r":8,"c":11,"w":50},{"r":8,"c":12,"w":35},{"r":8,"c":13,"w":30},{"r":8,"c":14,"w":25},{"r":8,"c":15,"w":25},{"r":8,"c":16,"w":35},{"r":8,"c":17,"w":45},{"r":8,"c":18,"w":50},{"r":8,"c":19,"w":50},
{"r":9,"c":0,"w":55},{"r":9,"c":1,"w":50},{"r":9,"c":2,"w":25},{"r":9,"c":3,"w":40},{"r":9,"c":4,"w":50},{"r":9,"c":5,"w":45},{"r":9,"c":6,"w":50},{"r":9,"c":7,"w":50},{"r":9,"c":8,"w":40},{"r":9,"c":9,"w":30},{"r":9,"c":10,"w":50},{"r":9,"c":11,"w":50},{"r":9,"c":12,"w":35},{"r":9,"c":13,"w":35},{"r":9,"c":14,"w":25},{"r":9,"c":15,"w":25},{"r":9,"c":16,"w":30},{"r":9,"c":17,"w":45},{"r":9,"c":18,"w":45},
{"r":10,"c":0,"w":115},{"r":10,"c":1,"w":120},{"r":10,"c":2,"w":30},{"r":10,"c":3,"w":60},{"r":10,"c":4,"w":120},{"r":10,"c":5,"w":90},{"r":10,"c":6,"w":115},{"r":10,"c":7,"w":120},{"r":10,"c":8,"w":80},{"r":10,"c":9,"w":40},{"r":10,"c":10,"w":120},{"r":10,"c":11,"w":120},{"r":10,"c":12,"w":50},{"r":10,"c":13,"w":55},{"r":10,"c":14,"w":30},{"r":10,"c":15,"w":30},{"r":10,"c":16,"w":45},{"r":10,"c":17,"w":135},
{"r":11,"c":0,"w":120},{"r":11,"c":1,"w":125},{"r":11,"c":2,"w":30},{"r":11,"c":3,"w":60},{"r":11,"c":4,"w":125},{"r":11,"c":5,"w":100},{"r":11,"c":6,"w":125},{"r":11,"c":7,"w":125},{"r":11,"c":8,"w":80},{"r":11,"c":9,"w":40},{"r":11,"c":10,"w":120},{"r":11,"c":11,"w":125},{"r":11,"c":12,"w":55},{"r":11,"c":13,"w":60},{"r":11,"c":14,"w":30},{"r":11,"c":15,"w":30},{"r":11,"c":16,"w":50},
{"r":12,"c":0,"w":60},{"r":12,"c":1,"w":65},{"r":12,"c":2,"w":25},{"r":12,"c":3,"w":50},{"r":12,"c":4,"w":60},{"r":12,"c":5,"w":50},{"r":12,"c":6,"w":60},{"r":12,"c":7,"w":60},{"r":12,"c":8,"w":50},{"r":12,"c":9,"w":35},{"r":12,"c":10,"w":60},{"r":12,"c":11,"w":60},{"r":12,"c":12,"w":95},{"r":12,"c":13,"w":105},{"r":12,"c":14,"w":40},{"r":12,"c":15,"w":30},
{"r":13,"c":0,"w":35},{"r":13,"c":1,"w":30},{"r":13,"c":2,"w":20},{"r":13,"c":3,"w":25},{"r":13,"c":4,"w":30},{"r":13,"c":5,"w":25},{"r":13,"c":6,"w":30},{"r":13,"c":7,"w":30},{"r":13,"c":8,"w":25},{"r":13,"c":9,"w":20},{"r":13,"c":10,"w":30},{"r":13,"c":11,"w":30},{"r":13,"c":12,"w":30},{"r":13,"c":13,"w":35},{"r":13,"c":14,"w":25},
{"r":14,"c":0,"w":30},{"r":14,"c":1,"w":30},{"r":14,"c":2,"w":15},{"r":14,"c":3,"w":25},{"r":14,"c":4,"w":25},{"r":14,"c":5,"w":25},{"r":14,"c":6,"w":30},{"r":14,"c":7,"w":25},{"r":14,"c":8,"w":25},{"r":14,"c":9,"w":20},{"r":14,"c":10,"w":25},{"r":14,"c":11,"w":25},{"r":14,"c":12,"w":45},{"r":14,"c":13,"w":40},
{"r":15,"c":0,"w":55},{"r":15,"c":1,"w":60},{"r":15,"c":2,"w":25},{"r":15,"c":3,"w":40},{"r":15,"c":4,"w":50},{"r":15,"c":5,"w":40},{"r":15,"c":6,"w":50},{"r":15,"c":7,"w":55},{"r":15,"c":8,"w":45},{"r":15,"c":9,"w":30},{"r":15,"c":10,"w":55},{"r":15,"c":11,"w":55},{"r":15,"c":12,"w":90},
{"r":16,"c":0,"w":55},{"r":16,"c":1,"w":60},{"r":16,"c":2,"w":25},{"r":16,"c":3,"w":40},{"r":16,"c":4,"w":50},{"r":16,"c":5,"w":40},{"r":16,"c":6,"w":50},{"r":16,"c":7,"w":55},{"r":16,"c":8,"w":45},{"r":16,"c":9,"w":30},{"r":16,"c":10,"w":55},{"r":16,"c":11,"w":65},
{"r":17,"c":0,"w":125},{"r":17,"c":1,"w":135},{"r":17,"c":2,"w":30},{"r":17,"c":3,"w":70},{"r":17,"c":4,"w":135},{"r":17,"c":5,"w":105},{"r":17,"c":6,"w":135},{"r":17,"c":7,"w":125},{"r":17,"c":8,"w":90},{"r":17,"c":9,"w":40},{"r":17,"c":10,"w":135},
{"r":18,"c":0,"w":125},{"r":18,"c":1,"w":135},{"r":18,"c":2,"w":30},{"r":18,"c":3,"w":70},{"r":18,"c":4,"w":135},{"r":18,"c":5,"w":105},{"r":18,"c":6,"w":135},{"r":18,"c":7,"w":125},{"r":18,"c":8,"w":90},{"r":18,"c":9,"w":40},
{"r":19,"c":0,"w":45},{"r":19,"c":1,"w":45},{"r":19,"c":2,"w":25},{"r":19,"c":3,"w":35},{"r":19,"c":4,"w":45},{"r":19,"c":5,"w":40},{"r":19,"c":6,"w":45},{"r":19,"c":7,"w":45},{"r":19,"c":8,"w":35},
{"r":20,"c":0,"w":50},{"r":20,"c":1,"w":60},{"r":20,"c":2,"w":25},{"r":20,"c":3,"w":45},{"r":20,"c":4,"w":50},{"r":20,"c":5,"w":50},{"r":20,"c":6,"w":50},{"r":20,"c":7,"w":55},
{"r":21,"c":0,"w":105},{"r":21,"c":1,"w":125},{"r":21,"c":2,"w":30},{"r":21,"c":3,"w":65},{"r":21,"c":4,"w":125},{"r":21,"c":5,"w":85},{"r":21,"c":6,"w":125},
{"r":22,"c":0,"w":115},{"r":22,"c":1,"w":125},{"r":22,"c":2,"w":30},{"r":22,"c":3,"w":60},{"r":22,"c":4,"w":125},{"r":22,"c":5,"w":85},
{"r":23,"c":0,"w":130},{"r":23,"c":1,"w":110},{"r":23,"c":2,"w":30},{"r":23,"c":3,"w":50},{"r":23,"c":4,"w":120},
{"r":24,"c":0,"w":115},{"r":24,"c":1,"w":135},{"r":24,"c":2,"w":30},{"r":24,"c":3,"w":60},
{"r":25,"c":0,"w":50},{"r":25,"c":1,"w":55},{"r":25,"c":2,"w":25},
{"r":26,"c":0,"w":30},{"r":26,"c":1,"w":40},
{"r":27,"c":0,"w":115}]
}}
